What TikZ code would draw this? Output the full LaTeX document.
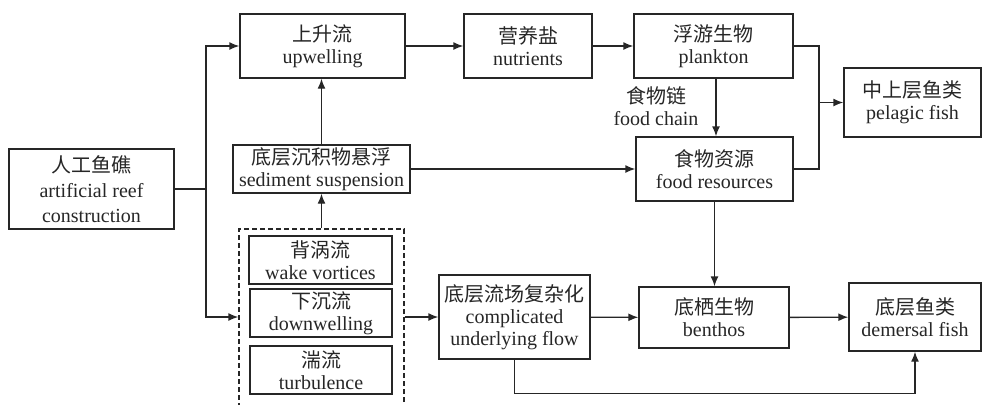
\documentclass[tikz,border=0pt]{standalone}
\usepackage{fontspec}
\setmainfont{Liberation Serif}
\newfontfamily\cjk{Noto Sans CJK SC}
\usepackage{tikz}
\usetikzlibrary{arrows.meta}

\begin{document}
\begin{tikzpicture}[x=0.5pt, y=-0.5pt, line width=0.7pt, draw=black!85,
		>={Latex[length=5pt,width=4pt]},
		box/.style={draw, align=center, inner sep=1pt, text=black!85,
			font=\fontsize{10pt}{11pt}\selectfont},
		sz/.style 2 args={minimum width=#1*0.5pt, minimum height=#2*0.5pt},
		grpbox/.style={draw, dash pattern=on 2.5pt off 1.5pt}]
		\useasboundingbox (0, 0) rectangle (982, 404);
		\clip (0, 0) rectangle (982, 404);
		% draw source
		\node [box, sz={165}{80}, font=\fontsize{10pt}{12.5pt}\selectfont] (reef) at (91.5, 189)
			{{\cjk 人工鱼礁}\\artificial reef\\construction};
		% draw upper chain
		\node [box, sz={165}{64}] (up) at (322.5, 46) {{\cjk 上升流}\\upwelling};
		\node [box, sz={128}{64}] (nut) at (528, 46) {{\cjk 营养盐}\\nutrients};
		\node [box, sz={159}{64}] (plank) at (713.5, 46) {{\cjk 浮游生物}\\plankton};
		\node [box, sz={137}{69}] (pel) at (912.5, 102.5) {{\cjk 中上层鱼类}\\pelagic fish};
		\node [box, sz={157}{64}] (food) at (714.5, 169) {{\cjk 食物资源}\\food resources};
		\node [box, sz={177}{48}] (sed) at (321.5, 169) {{\cjk 底层沉积物悬浮}\\sediment suspension};
		% draw flow group (runs off the bottom edge)
		\node [grpbox, sz={165}{200}] (grp) at (321.5, 329) {};
		\node [box, sz={143}{48}] (wake) at (320.5, 260) {{\cjk 背涡流}\\wake vortices};
		\node [box, sz={142}{48}] (down) at (321, 313) {{\cjk 下沉流}\\downwelling};
		\node [box, sz={142}{48}] (turb) at (321, 370) {{\cjk 湍流}\\turbulence};
		% draw lower chain
		\node [box, sz={151}{84}] (cmp) at (514.5, 317)
			{{\cjk 底层流场复杂化}\\complicated\\underlying flow};
		\node [box, sz={150}{61}] (ben) at (714, 317.5) {{\cjk 底栖生物}\\benthos};
		\node [box, sz={132}{68}] (dem) at (915, 317) {{\cjk 底层鱼类}\\demersal fish};
		% draw label
		\node [box, draw=none, text=black!85] (chain) at (656, 106) {{\cjk 食物链}\\food chain};
		% draw branches
		\coordinate (jn) at (206, 189);
		\coordinate (pj) at (819, 102.5);
		\draw (reef.east) -- (jn);
		\draw [->] (jn) |- (up.west);
		\draw [->] (jn) |- (grp.west |- cmp);
		\draw [->] (up) -- (nut);
		\draw [->] (nut) -- (plank);
		\draw [->] (plank.south -| 716, 0) -- (food.north -| 716, 0);
		\draw (plank.east) -| (pj);
		\draw (food.east) -| (pj);
		\draw [->] (pj) -- (pel.west);
		\draw [->] (sed.north) -- (up.south -| sed.north);
		\draw [->] (grp.north) -- (sed.south -| grp.north);
		\draw [->] (sed) -- (food);
		\draw [->] (grp.east |- cmp) -- (cmp.west);
		\draw [->] (cmp) -- (ben);
		\draw [->] (ben) -- (dem);
		\draw [->] (food.south) -- (ben.north -| food.south);
		\draw [->] (cmp.south) -- ++(0, 34) -| (dem.south);
	\end{tikzpicture}
\end{document}
